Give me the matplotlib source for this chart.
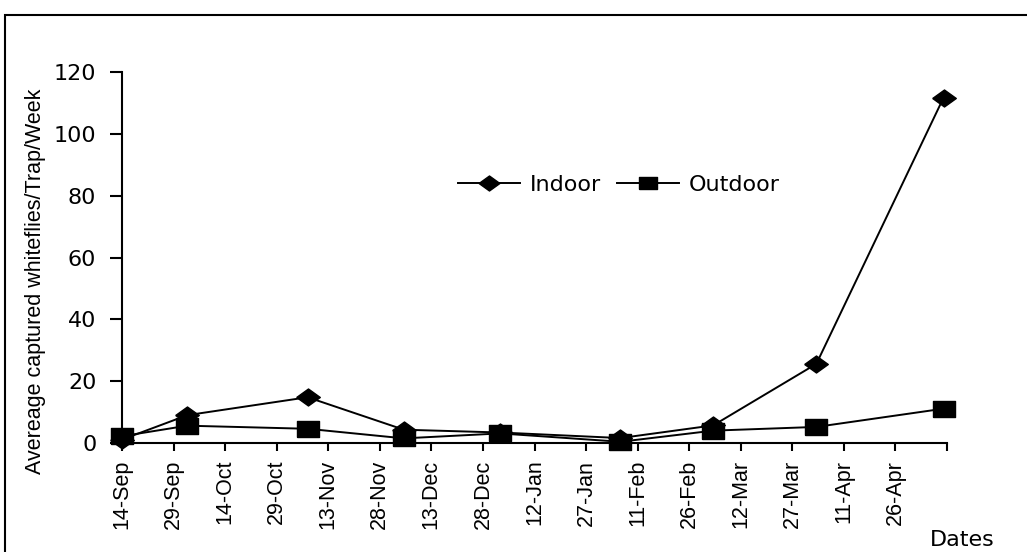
import datetime as dt
import matplotlib
matplotlib.use("Agg")
import matplotlib.pyplot as plt
from matplotlib.lines import Line2D
from matplotlib.patches import Rectangle

# ---- data ----
sample_dates = ["2007-09-14", "2007-10-03", "2007-11-07", "2007-12-05", "2008-01-02",
                "2008-02-06", "2008-03-04", "2008-04-03", "2008-05-10"]
indoor = [1.1, 9.0, 14.8, 4.3, 3.4, 1.6, 5.7, 25.6, 111.7]
outdoor = [2.2, 5.6, 4.6, 1.5, 3.1, 0.4, 4.0, 5.2, 11.1]
tick_labels = ["14-Sep", "29-Sep", "14-Oct", "29-Oct", "13-Nov", "28-Nov", "13-Dec",
               "28-Dec", "12-Jan", "27-Jan", "11-Feb", "26-Feb", "12-Mar", "27-Mar",
               "11-Apr", "26-Apr", ""]
y_ticks = [0, 20, 40, 60, 80, 100, 120]

x = [dt.datetime.strptime(d, "%Y-%m-%d") for d in sample_dates]
start = dt.datetime(2007, 9, 14)
tick_pos = [start + dt.timedelta(days=15 * i) for i in range(len(tick_labels))]

W, H = 1027, 552
fig = plt.figure(figsize=(W / 100, H / 100), dpi=100)
fig.patch.set_facecolor("white")

# outer border
fig.patches.append(Rectangle((5 / W, -0.1), 1.2, 1 - 15 / H + 0.1, transform=fig.transFigure,
                             fill=False, edgecolor="black", linewidth=1.5))

ax = fig.add_axes([122 / W, (H - 443) / H, (947 - 122) / W, (443 - 72) / H])

diamond = [(-1, 0), (0, 0.72), (1, 0), (0, -0.72), (-1, 0)]
square = [(-1, -0.7), (1, -0.7), (1, 0.7), (-1, 0.7), (-1, -0.7)]

ax.plot(x, indoor, color="black", linewidth=1.4, marker=diamond, markersize=17,
        markerfacecolor="black", markeredgecolor="black", clip_on=False, zorder=3)
ax.plot(x, outdoor, color="black", linewidth=1.4, marker=square, markersize=16,
        markerfacecolor="black", markeredgecolor="black", clip_on=False, zorder=4)

ax.set_xlim(tick_pos[0], tick_pos[-1])
ax.set_ylim(0, 120)
ax.set_xticks(tick_pos)
ax.set_xticklabels(tick_labels, rotation=90, fontsize=15.5, family="Liberation Sans")
ax.set_yticks(y_ticks)
ax.set_yticklabels([str(v) for v in y_ticks], fontsize=16, family="DejaVu Sans")

for s in ["top", "right"]:
    ax.spines[s].set_visible(False)
for s in ["left", "bottom"]:
    ax.spines[s].set_linewidth(1.5)
ax.tick_params(axis="y", direction="out", length=8.5, width=1.5, pad=10)
ax.tick_params(axis="x", direction="out", length=6, width=1.5, pad=6)

ax.set_ylabel("Avereage captured whiteflies/Trap/Week", fontsize=15.5, family="Liberation Sans")
ax.yaxis.set_label_coords((36 - 122) / (947 - 122), (443 - 281) / (443 - 72))
ax.yaxis.label.set_verticalalignment("center")

fig.text(962 / W, 1 - 540 / H, "Dates", fontsize=16, family="DejaVu Sans",
         ha="center", va="center")

handles = [Line2D([], [], color="black", linewidth=1.4, marker=diamond, markersize=15,
                  markerfacecolor="black"),
           Line2D([], [], color="black", linewidth=1.4, marker=square, markersize=13,
                  markerfacecolor="black")]
fig.legend(handles, ["Indoor", "Outdoor"], loc="center left",
           bbox_to_anchor=(458 / W, 1 - 185 / H), bbox_transform=fig.transFigure,
           ncol=2, frameon=False, prop={"family": "DejaVu Sans", "size": 16},
           handlelength=2.8, handletextpad=0.45, columnspacing=0.7,
           borderpad=0, borderaxespad=0)

fig.savefig("out.png", dpi=100)
